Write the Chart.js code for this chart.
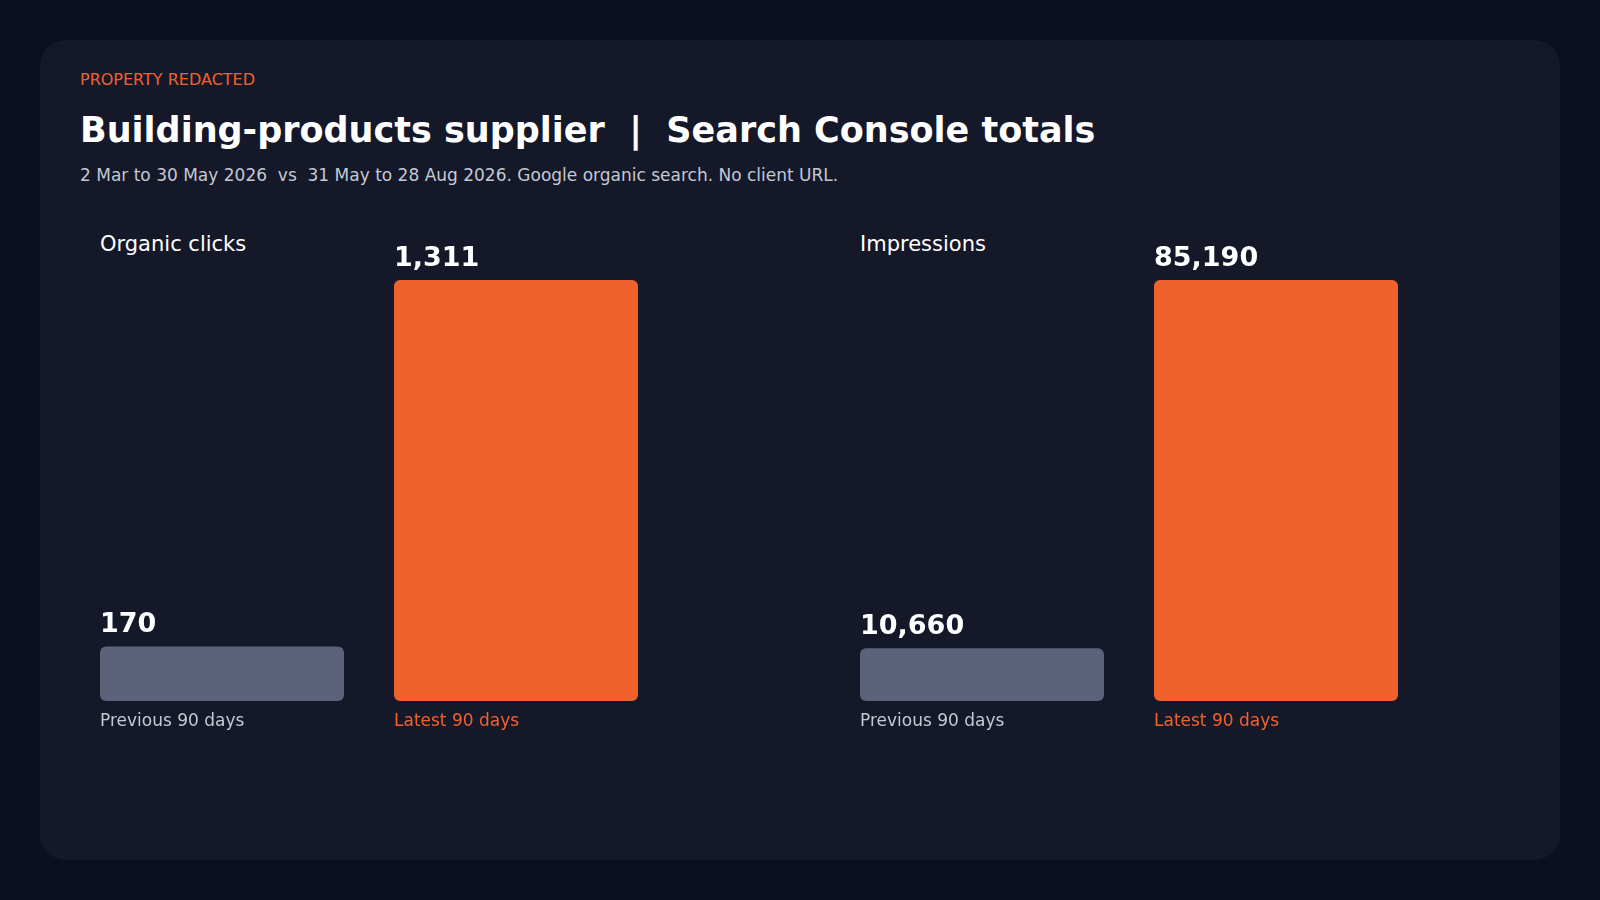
<!DOCTYPE html>
<html><head><meta charset="utf-8">
<script src="https://cdn.jsdelivr.net/npm/chart.js@4.4.0/dist/chart.umd.min.js"></script>
<style>
html,body{margin:0;padding:0;background:#0b0f1f;width:1600px;height:900px;overflow:hidden;font-family:"DejaVu Sans",sans-serif}
#card{position:absolute;left:40px;top:40px;width:1520px;height:820px;background:#141829;border-radius:26px}
.t{position:absolute;white-space:nowrap}
canvas{position:absolute}
</style></head><body>
<div id="card"></div>
<div class="t" style="left:80px;top:70px;font-size:16px;color:#f0622d">PROPERTY REDACTED</div>
<div class="t" style="left:80px;top:110px;font-size:35px;font-weight:bold;color:#fff">Building-products supplier &nbsp;|&nbsp; Search Console totals</div>
<div class="t" style="left:80px;top:165px;font-size:17px;color:#c4c8d4">2 Mar to 30 May 2026 &nbsp;vs &nbsp;31 May to 28 Aug 2026. Google organic search. No client URL.</div>
<div class="t" style="left:100px;top:232px;font-size:21px;color:#fff">Organic clicks</div>
<div class="t" style="left:860px;top:232px;font-size:21px;color:#fff">Impressions</div>
<div style="position:absolute;left:75px;top:230px;width:588px;height:520px"><canvas id="c1"></canvas></div>
<div style="position:absolute;left:835px;top:230px;width:588px;height:520px"><canvas id="c2"></canvas></div>
<script>
const periods = ["Previous 90 days", "Latest 90 days"];
const clicks = [170, 1311];
const impressions = [10660, 85190];
const barColors = ["#5c6279", "#f0622d"];
const labelColors = ["#c4c8d4", "#f0622d"];

const labelPlugin = {
  id: 'labels',
  afterDatasetsDraw(chart) {
    const ctx = chart.ctx;
    const meta = chart.getDatasetMeta(0);
    meta.data.forEach((bar, i) => {
      const left = bar.x - bar.width / 2;
      const v = chart.data.datasets[0].data[i];
      ctx.save();
      ctx.fillStyle = '#fff';
      ctx.font = 'bold 27px "DejaVu Sans"';
      ctx.textAlign = 'left';
      ctx.textBaseline = 'alphabetic';
      ctx.fillText(v.toLocaleString('en-US'), left, bar.y - 14);
      ctx.fillStyle = labelColors[i];
      ctx.font = '17px "DejaVu Sans"';
      ctx.textBaseline = 'middle';
      ctx.fillText(chart.data.labels[i], left, chart.chartArea.bottom + 21);
      ctx.restore();
    });
  }
};

function make(id, data) {
  new Chart(document.getElementById(id), {
    type: 'bar',
    data: { labels: periods, datasets: [{ data: data, backgroundColor: barColors, borderRadius: 6, borderSkipped: false, barPercentage: 244/294, categoryPercentage: 1 }] },
    options: {
      responsive: true, maintainAspectRatio: false, animation: false,
      layout: { padding: { top: 0, bottom: 49, left: 0, right: 0 } },
      plugins: { legend: { display: false }, tooltip: { enabled: false } },
      scales: {
        x: { display: false },
        y: { display: false, min: 0, max: Math.max(...data) * 471 / 421 }
      }
    },
    plugins: [labelPlugin]
  });
}
make('c1', clicks);
make('c2', impressions);
</script>
</body></html>
